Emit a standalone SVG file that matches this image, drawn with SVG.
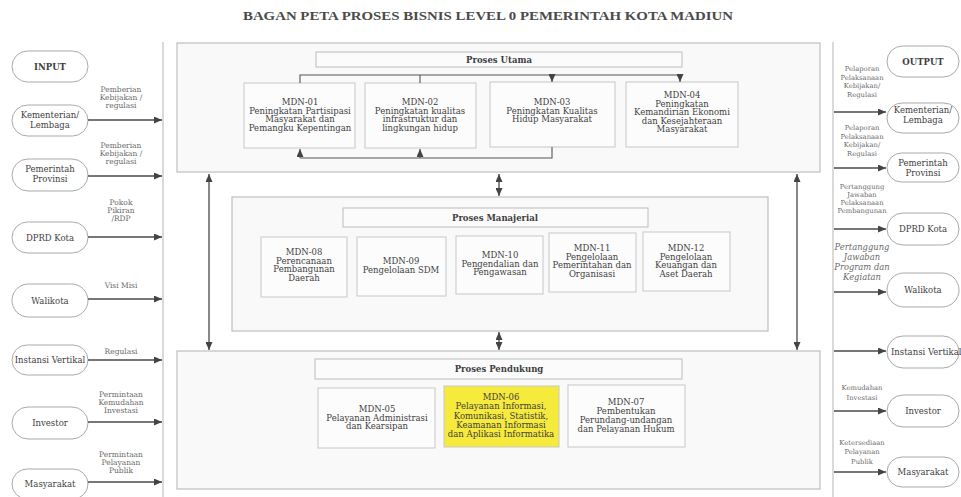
<svg xmlns="http://www.w3.org/2000/svg" width="961" height="497" viewBox="0 0 961 497">
<style>
.frame{fill:#f9f9f9;stroke:#bfbfbf;stroke-width:1.2}
.hdr{fill:#fbfbfb;stroke:#bcbcbc;stroke-width:1}
.box{fill:#fcfcfc;stroke:#c8c8c8;stroke-width:1}
.yel{fill:#f6ea3c;stroke:#c8c8c8;stroke-width:1}
.pill{fill:#ffffff;stroke:#a9a9a9;stroke-width:1}
.t{font-family:"DejaVu Serif","Liberation Serif",serif;font-size:8.5px;fill:#3e3e3e;text-anchor:middle}
.b{font-weight:bold}
.l{font-family:"DejaVu Serif","Liberation Serif",serif;font-size:7.5px;fill:#6a6a6a;text-anchor:middle}
.r{font-family:"DejaVu Serif","Liberation Serif",serif;font-size:6.8px;fill:#6a6a6a;text-anchor:middle}
.conn{stroke:#4a4a4a;stroke-width:1.3;fill:none}
.thin{stroke:#555;stroke-width:1.1;fill:none}
.side{stroke:#c2c2c2;stroke-width:1.2;fill:none}
</style>
<defs>
<marker id="ah" markerUnits="userSpaceOnUse" markerWidth="8" markerHeight="7" refX="8" refY="3.5" orient="auto-start-reverse">
<path d="M0,0 L8,3.5 L0,7 z" fill="#444"/>
</marker>
</defs>
<rect width="961" height="497" fill="#ffffff"/>
<text x="243" y="20" font-family="'Liberation Serif',serif" font-size="13" font-weight="bold" fill="#4a4a4a" textLength="490" lengthAdjust="spacingAndGlyphs">BAGAN PETA PROSES BISNIS LEVEL 0 PEMERINTAH KOTA MADIUN</text>

<g id="proses-utama">
<rect class="frame" x="177" y="43" width="643" height="129"/>
<rect class="hdr" x="316" y="52" width="366" height="15"/>
<text class="t b" x="499" y="62.5">Proses Utama</text>
</g>
<g id="proses-manajerial">
<rect class="frame" x="232" y="197" width="536" height="134"/>
<rect class="hdr" x="343" y="208" width="305" height="19"/>
<text class="t b" x="495" y="220.5">Proses Manajerial</text>
</g>
<g id="proses-pendukung">
<rect class="frame" x="177" y="351" width="643" height="138"/>
<rect class="hdr" x="315" y="359" width="367" height="20"/>
<text class="t b" x="499" y="372">Proses Pendukung</text>
</g>

<g id="mdn-01"><rect class="box" x="244" y="83" width="111" height="65"/>
<text class="t" x="300" y="105">MDN-01<tspan x="300" dy="8.5">Peningkatan Partisipasi</tspan><tspan x="300" dy="8.5">Masyarakat dan</tspan><tspan x="300" dy="8.5">Pemangku Kepentingan</tspan></text></g>
<g id="mdn-02"><rect class="box" x="365" y="83" width="111" height="65"/>
<text class="t" x="420" y="105">MDN-02<tspan x="420" dy="8.5">Peningkatan kualitas</tspan><tspan x="420" dy="8.5">infrastruktur dan</tspan><tspan x="420" dy="8.5">lingkungan hidup</tspan></text></g>
<g id="mdn-03"><rect class="box" x="490" y="82" width="125" height="65"/>
<text class="t" x="552" y="105">MDN-03<tspan x="552" dy="8.5">Peningkatan Kualitas</tspan><tspan x="552" dy="8.5">Hidup Masyarakat</tspan></text></g>
<g id="mdn-04"><rect class="box" x="626" y="82" width="112" height="65"/>
<text class="t" x="682" y="98">MDN-04<tspan x="682" dy="8.5">Peningkatan</tspan><tspan x="682" dy="8.5">Kemandirian Ekonomi</tspan><tspan x="682" dy="8.5">dan Kesejahteraan</tspan><tspan x="682" dy="8.5">Masyarakat</tspan></text></g>

<g id="mdn-08"><rect class="box" x="261" y="237" width="86" height="60"/>
<text class="t" x="304" y="255">MDN-08<tspan x="304" dy="8.6">Perencanaan</tspan><tspan x="304" dy="8.6">Pembangunan</tspan><tspan x="304" dy="8.6">Daerah</tspan></text></g>
<g id="mdn-09"><rect class="box" x="357" y="237" width="89" height="59"/>
<text class="t" x="401" y="264">MDN-09<tspan x="401" dy="9">Pengelolaan SDM</tspan></text></g>
<g id="mdn-10"><rect class="box" x="456" y="236" width="87" height="58"/>
<text class="t" x="500" y="258">MDN-10<tspan x="500" dy="8.6">Pengendalian dan</tspan><tspan x="500" dy="8.6">Pengawasan</tspan></text></g>
<g id="mdn-11"><rect class="box" x="549" y="233" width="87" height="59"/>
<text class="t" x="592" y="251">MDN-11<tspan x="592" dy="8.6">Pengelolaan</tspan><tspan x="592" dy="8.6">Pemerintahan dan</tspan><tspan x="592" dy="8.6">Organisasi</tspan></text></g>
<g id="mdn-12"><rect class="box" x="643" y="232" width="87" height="59"/>
<text class="t" x="686" y="251">MDN-12<tspan x="686" dy="8.6">Pengelolaan</tspan><tspan x="686" dy="8.6">Keuangan dan</tspan><tspan x="686" dy="8.6">Aset Daerah</tspan></text></g>

<g id="mdn-05"><rect class="box" x="318" y="388" width="117" height="60"/>
<text class="t" x="377" y="412">MDN-05<tspan x="377" dy="8.6">Pelayanan Administrasi</tspan><tspan x="377" dy="8.6">dan Kearsipan</tspan></text></g>
<g id="mdn-06"><rect class="yel" x="444" y="386" width="115" height="61"/>
<text class="t" x="501" y="400">MDN-06<tspan x="501" dy="9.3">Pelayanan Informasi,</tspan><tspan x="501" dy="9.3">Komunikasi, Statistik,</tspan><tspan x="501" dy="9.3">Keamanan Informasi</tspan><tspan x="501" dy="9.3">dan Aplikasi Informatika</tspan></text></g>
<g id="mdn-07"><rect class="box" x="568" y="385" width="117" height="62"/>
<text class="t" x="626" y="405">MDN-07<tspan x="626" dy="9">Pembentukan</tspan><tspan x="626" dy="9">Perundang-undangan</tspan><tspan x="626" dy="9">dan Pelayanan Hukum</tspan></text></g>

<g id="in-header"><rect class="pill" x="12" y="51" width="76" height="31" rx="15.5"/><text class="t b" x="50" y="69.5">INPUT</text></g>
<g id="in-kementerian"><rect class="pill" x="12" y="105" width="76" height="31" rx="15.5"/><text class="t" x="50" y="118">Kementerian/<tspan x="50" dy="10">Lembaga</tspan></text></g>
<g id="in-provinsi"><rect class="pill" x="12" y="159" width="76" height="32" rx="16"/><text class="t" x="50" y="172">Pemerintah<tspan x="50" dy="10">Provinsi</tspan></text></g>
<g id="in-dprd"><rect class="pill" x="12" y="222" width="76" height="31" rx="15.5"/><text class="t" x="50" y="240.5">DPRD Kota</text></g>
<g id="in-walikota"><rect class="pill" x="12" y="284" width="76" height="33" rx="16.5"/><text class="t" x="50" y="303.5">Walikota</text></g>
<g id="in-instansi"><rect class="pill" x="12" y="345" width="76" height="30" rx="15"/><text class="t" x="50" y="363">Instansi Vertikal</text></g>
<g id="in-investor"><rect class="pill" x="12" y="407" width="76" height="32" rx="16"/><text class="t" x="50" y="426">Investor</text></g>
<g id="in-masyarakat"><rect class="pill" x="12" y="469" width="76" height="30" rx="15"/><text class="t" x="50" y="487">Masyarakat</text></g>

<g id="out-header"><rect class="pill" x="887" y="46" width="72" height="31" rx="15.5"/><text class="t b" x="923" y="64.5">OUTPUT</text></g>
<g id="out-kementerian"><rect class="pill" x="887" y="103" width="72" height="30" rx="15"/><text class="t" x="923" y="113">Kementerian/<tspan x="923" dy="10">Lembaga</tspan></text></g>
<g id="out-provinsi"><rect class="pill" x="887" y="153" width="72" height="29" rx="14.5"/><text class="t" x="923" y="166">Pemerintah<tspan x="923" dy="10">Provinsi</tspan></text></g>
<g id="out-dprd"><rect class="pill" x="887" y="213" width="72" height="32" rx="16"/><text class="t" x="923" y="232">DPRD Kota</text></g>
<g id="out-walikota"><rect class="pill" x="887" y="273" width="72" height="34" rx="17"/><text class="t" x="923" y="293">Walikota</text></g>
<g id="out-instansi"><rect class="pill" x="887" y="336" width="72" height="32" rx="16"/><text class="t" x="891" y="355" style="text-anchor:start">Instansi Vertikal</text></g>
<g id="out-investor"><rect class="pill" x="887" y="395" width="72" height="32" rx="16"/><text class="t" x="923" y="414">Investor</text></g>
<g id="out-masyarakat"><rect class="pill" x="887" y="457" width="72" height="30" rx="15"/><text class="t" x="923" y="475">Masyarakat</text></g>

<g id="connectors">
<line class="side" x1="163" y1="42" x2="163" y2="497"/>
<line class="side" x1="833" y1="42" x2="833" y2="497"/>
<polyline class="thin" points="300,83 300,75 680,75"/>
<line class="thin" x1="420" y1="75" x2="420" y2="83"/>
<line class="thin" x1="552" y1="75" x2="552" y2="82" marker-end="url(#ah)"/>
<line class="thin" x1="680" y1="75" x2="680" y2="82" marker-end="url(#ah)"/>
<polyline class="thin" points="552,147 552,158 300,158"/>
<line class="thin" x1="300" y1="158" x2="300" y2="149" marker-end="url(#ah)"/>
<line class="thin" x1="420" y1="158" x2="420" y2="149" marker-end="url(#ah)"/>
<line class="conn" x1="209" y1="174" x2="209" y2="350" marker-start="url(#ah)" marker-end="url(#ah)"/>
<line class="conn" x1="797" y1="174" x2="797" y2="350" marker-start="url(#ah)" marker-end="url(#ah)"/>
<line class="conn" x1="499" y1="174" x2="499" y2="196" marker-start="url(#ah)" marker-end="url(#ah)"/>
<line class="conn" x1="499" y1="332" x2="499" y2="350" marker-start="url(#ah)" marker-end="url(#ah)"/>
<line class="conn" x1="88" y1="120" x2="162" y2="120" marker-end="url(#ah)"/>
<line class="conn" x1="88" y1="176" x2="162" y2="176" marker-end="url(#ah)"/>
<line class="conn" x1="88" y1="237" x2="162" y2="237" marker-end="url(#ah)"/>
<line class="conn" x1="88" y1="299" x2="162" y2="299" marker-end="url(#ah)"/>
<line class="conn" x1="88" y1="360" x2="162" y2="360" marker-end="url(#ah)"/>
<line class="conn" x1="88" y1="422" x2="162" y2="422" marker-end="url(#ah)"/>
<line class="conn" x1="88" y1="482" x2="162" y2="482" marker-end="url(#ah)"/>
<line class="conn" x1="834" y1="112" x2="886" y2="112" marker-end="url(#ah)"/>
<line class="conn" x1="834" y1="168" x2="886" y2="168" marker-end="url(#ah)"/>
<line class="conn" x1="834" y1="229" x2="886" y2="229" marker-end="url(#ah)"/>
<line class="conn" x1="834" y1="292" x2="886" y2="292" marker-end="url(#ah)"/>
<line class="conn" x1="834" y1="351" x2="886" y2="351" marker-end="url(#ah)"/>
<line class="conn" x1="834" y1="411" x2="886" y2="411" marker-end="url(#ah)"/>
<line class="conn" x1="834" y1="472" x2="886" y2="472" marker-end="url(#ah)"/>
<text class="l" x="121" y="92">Pemberian<tspan x="121" dy="8">Kebijakan /</tspan><tspan x="121" dy="8">regulasi</tspan></text>
<text class="l" x="121" y="148">Pemberian<tspan x="121" dy="8">Kebijakan /</tspan><tspan x="121" dy="8">regulasi</tspan></text>
<text class="l" x="121" y="205">Pokok<tspan x="121" dy="8">Pikiran</tspan><tspan x="121" dy="8">/RDP</tspan></text>
<text class="l" x="121" y="288">Visi Misi</text>
<text class="l" x="121" y="354">Regulasi</text>
<text class="l" x="121" y="397">Permintaan<tspan x="121" dy="8">Kemudahan</tspan><tspan x="121" dy="8">Investasi</tspan></text>
<text class="l" x="121" y="457">Permintaan<tspan x="121" dy="8">Pelayanan</tspan><tspan x="121" dy="8">Publik</tspan></text>
<text class="r" x="862" y="71">Pelaporan<tspan x="862" dy="8.5">Pelaksanaan</tspan><tspan x="862" dy="8.5">Kebijakan/</tspan><tspan x="862" dy="8.5">Regulasi</tspan></text>
<text class="r" x="862" y="130">Pelaporan<tspan x="862" dy="8.5">Pelaksanaan</tspan><tspan x="862" dy="8.5">Kebijakan/</tspan><tspan x="862" dy="8.5">Regulasi</tspan></text>
<text class="r" x="862" y="189">Pertanggung<tspan x="862" dy="8">Jawaban</tspan><tspan x="862" dy="8">Pelaksanaan</tspan><tspan x="862" dy="8">Pembangunan</tspan></text>
<text class="l" x="862" y="250" style="font-size:8.4px;font-style:italic">Pertanggung<tspan x="862" dy="10">Jawaban</tspan><tspan x="862" dy="10">Program dan</tspan><tspan x="862" dy="10">Kegiatan</tspan></text>
<text class="r" x="862" y="389.5">Kemudahan<tspan x="862" dy="10">Investasi</tspan></text>
<text class="r" x="862" y="444.5">Ketersediaan<tspan x="862" dy="9.5">Pelayanan</tspan><tspan x="862" dy="9.5">Publik</tspan></text>
</g>
</svg>
